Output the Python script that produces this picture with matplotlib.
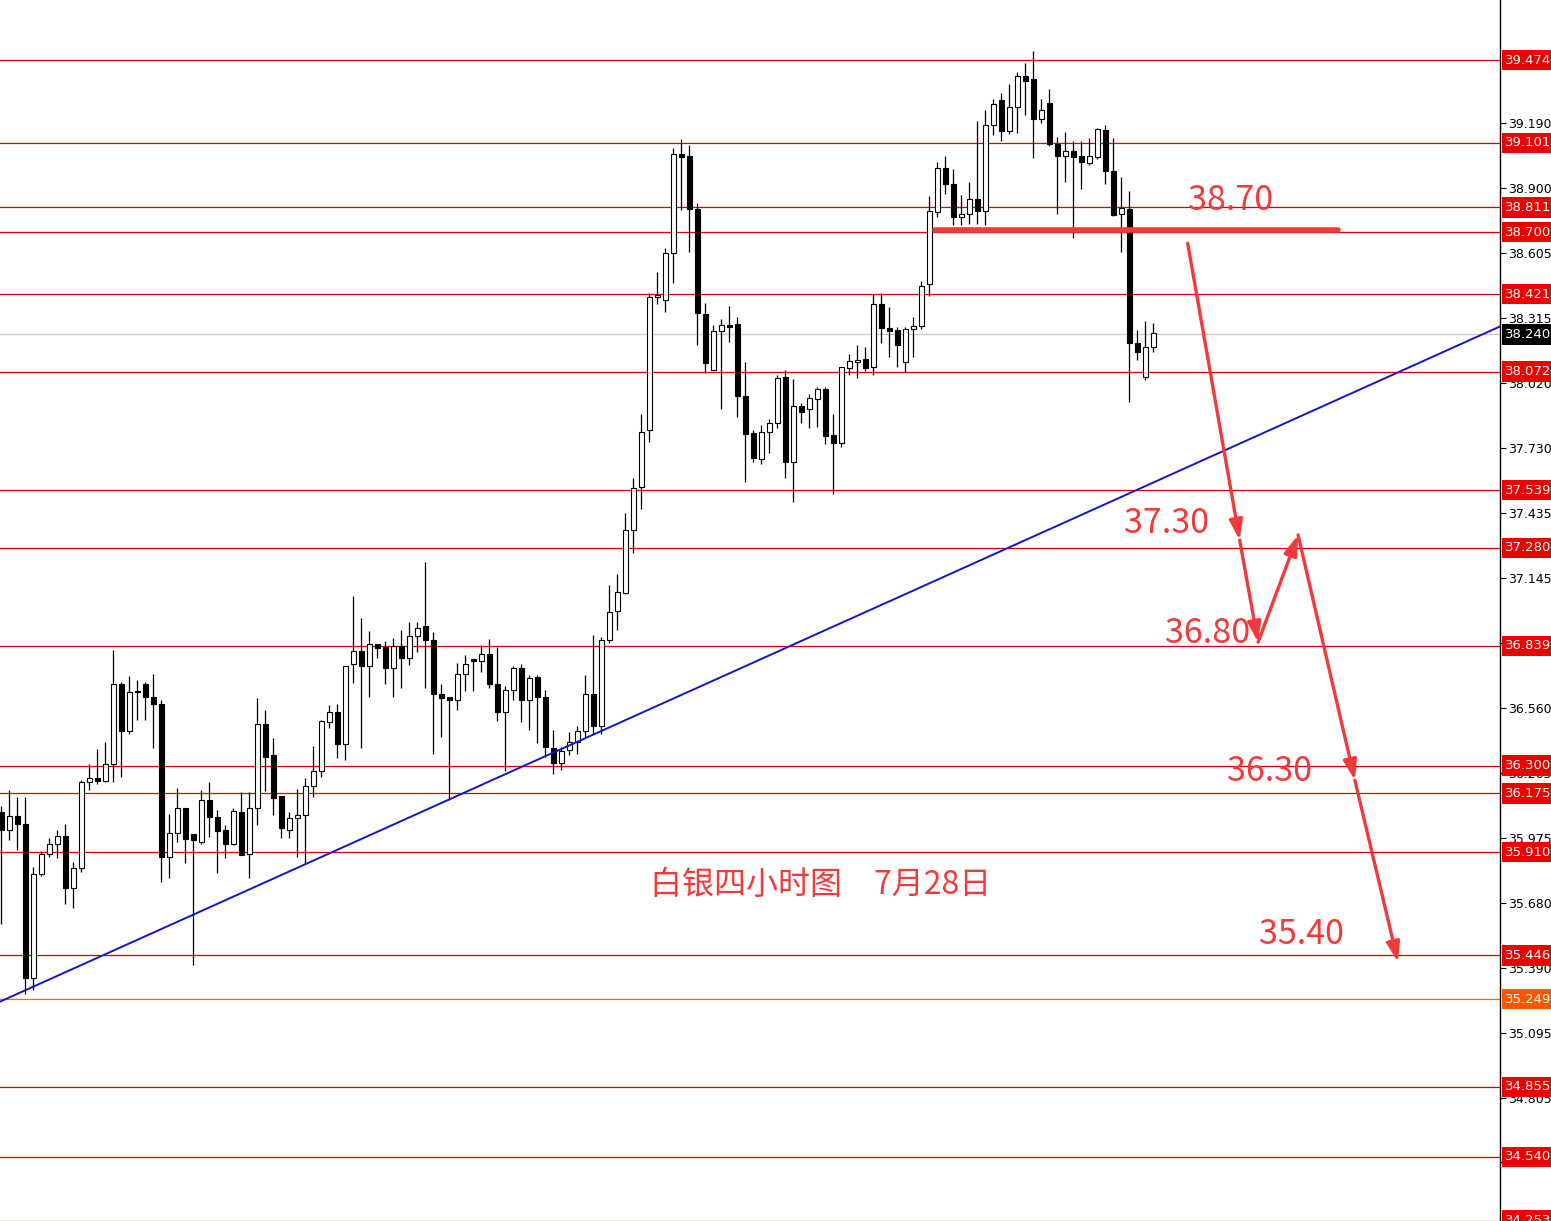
import numpy as np
import matplotlib
matplotlib.use("Agg")
import matplotlib.pyplot as plt
import matplotlib.transforms as mtransforms

# 4h candles (silver)
opens = [36.089, 36.012, 36.075, 36.039, 35.342, 35.814, 35.904, 35.945, 35.985, 35.751,
         35.837, 36.224, 36.246, 36.231, 36.309, 36.665, 36.456, 36.633, 36.665, 36.609,
         36.579, 35.889, 35.997, 36.107, 35.991, 35.956, 36.144, 36.069, 36.012, 35.946,
         36.089, 35.900, 36.111, 36.485, 36.346, 36.162, 36.012, 36.066, 36.076, 36.208,
         36.276, 36.498, 36.539, 36.395, 36.755, 36.815, 36.748, 36.849, 36.832, 36.739,
         36.837, 36.784, 36.883, 36.927, 36.867, 36.624, 36.609, 36.597, 36.710, 36.778,
         36.771, 36.804, 36.669, 36.539, 36.639, 36.737, 36.594, 36.699, 36.609, 36.381,
         36.312, 36.369, 36.406, 36.456, 36.624, 36.477, 36.864, 36.996, 37.077, 37.359,
         37.554, 37.809, 38.406, 38.393, 38.604, 39.050, 39.042, 38.803, 38.331, 38.079,
         38.253, 38.280, 38.285, 37.963, 37.794, 37.677, 37.801, 37.839, 38.046, 37.666,
         37.917, 37.905, 37.947, 37.992, 37.786, 37.752, 38.087, 38.114, 38.127, 38.091,
         38.375, 38.267, 38.259, 38.116, 38.262, 38.277, 38.465, 38.791, 38.987, 38.915,
         38.766, 38.781, 38.847, 38.796, 39.181, 39.294, 39.156, 39.261, 39.402, 39.387,
         39.207, 39.279, 39.095, 39.043, 39.064, 39.042, 39.012, 39.039, 39.159, 38.974,
         38.780, 38.802, 38.202, 38.049, 38.181]
highs = [36.117, 36.189, 36.159, 36.159, 35.844, 35.914, 35.976, 36.009, 36.039, 35.866,
         36.234, 36.306, 36.374, 36.404, 36.819, 36.676, 36.702, 36.684, 36.676, 36.711,
         36.597, 36.081, 36.197, 36.107, 35.991, 36.189, 36.226, 36.099, 36.032, 36.107,
         36.181, 36.181, 36.604, 36.552, 36.422, 36.162, 36.091, 36.193, 36.242, 36.387,
         36.507, 36.571, 36.575, 36.750, 37.062, 36.966, 36.904, 36.849, 36.859, 36.872,
         36.912, 36.944, 36.946, 37.216, 36.899, 36.665, 36.609, 36.762, 36.797, 36.778,
         36.842, 36.868, 36.834, 36.658, 36.747, 36.759, 36.706, 36.706, 36.642, 36.459,
         36.384, 36.451, 36.478, 36.706, 36.886, 36.879, 37.112, 37.161, 37.434, 37.592,
         37.881, 38.424, 38.519, 38.627, 39.077, 39.117, 39.092, 38.829, 38.379, 38.281,
         38.308, 38.367, 38.316, 38.116, 37.809, 37.831, 37.859, 38.057, 38.079, 38.037,
         37.932, 37.970, 38.004, 38.004, 37.880, 38.094, 38.150, 38.192, 38.181, 38.421,
         38.427, 38.364, 38.274, 38.274, 38.319, 38.480, 38.862, 39.014, 39.042, 38.984,
         38.867, 38.924, 39.201, 39.249, 39.297, 39.327, 39.366, 39.421, 39.459, 39.515,
         39.297, 39.342, 39.126, 39.149, 39.110, 39.110, 39.122, 39.167, 39.181, 39.124,
         38.949, 38.884, 38.259, 38.299, 38.292]
lows = [35.585, 35.964, 35.919, 35.274, 35.289, 35.802, 35.889, 35.884, 35.679, 35.659,
        35.819, 36.189, 36.219, 36.226, 36.226, 36.249, 36.444, 36.504, 36.504, 36.379,
        35.776, 35.792, 35.956, 35.862, 35.402, 35.949, 35.979, 35.817, 35.882, 35.941,
        35.896, 35.792, 36.032, 36.184, 36.077, 35.974, 35.974, 35.889, 35.859, 36.159,
        36.249, 36.469, 36.334, 36.327, 36.672, 36.377, 36.609, 36.784, 36.669, 36.609,
        36.649, 36.751, 36.811, 36.647, 36.354, 36.429, 36.144, 36.549, 36.635, 36.635,
        36.721, 36.647, 36.501, 36.276, 36.594, 36.496, 36.459, 36.402, 36.339, 36.260,
        36.282, 36.346, 36.354, 36.429, 36.444, 36.444, 36.852, 36.909, 37.071, 37.257,
        37.452, 37.756, 38.375, 38.341, 38.472, 38.799, 38.611, 38.192, 38.064, 38.079,
        37.902, 38.206, 37.866, 37.574, 37.666, 37.655, 37.707, 37.817, 37.594, 37.486,
        37.839, 37.819, 37.824, 37.745, 37.520, 37.734, 38.057, 38.042, 38.076, 38.057,
        38.199, 38.139, 38.094, 38.071, 38.139, 38.262, 38.412, 38.769, 38.871, 38.732,
        38.732, 38.736, 38.736, 38.732, 39.137, 39.111, 39.140, 39.144, 39.227, 39.032,
        39.192, 39.087, 38.781, 38.926, 38.674, 38.892, 39.002, 39.027, 38.916, 38.773,
        38.611, 37.936, 38.124, 38.034, 38.161]
closes = [36.012, 36.075, 36.039, 35.342, 35.814, 35.900, 35.945, 35.982, 35.751, 35.837,
          36.224, 36.246, 36.231, 36.309, 36.665, 36.456, 36.633, 36.636, 36.609, 36.576,
          35.889, 35.997, 36.107, 35.971, 35.964, 36.147, 36.069, 36.006, 35.949, 36.094,
          35.896, 36.111, 36.485, 36.339, 36.154, 36.017, 36.066, 36.076, 36.208, 36.276,
          36.499, 36.539, 36.395, 36.750, 36.815, 36.748, 36.849, 36.827, 36.739, 36.837,
          36.784, 36.882, 36.917, 36.867, 36.624, 36.604, 36.597, 36.710, 36.755, 36.771,
          36.800, 36.665, 36.539, 36.639, 36.737, 36.594, 36.696, 36.609, 36.384, 36.312,
          36.366, 36.406, 36.456, 36.624, 36.477, 36.864, 36.991, 37.079, 37.359, 37.549,
          37.801, 38.409, 38.417, 38.607, 39.050, 39.039, 38.802, 38.334, 38.112, 38.253,
          38.281, 38.274, 37.963, 37.790, 37.682, 37.801, 37.839, 38.042, 37.666, 37.917,
          37.891, 37.952, 37.992, 37.783, 37.752, 38.091, 38.121, 38.124, 38.089, 38.375,
          38.267, 38.254, 38.192, 38.262, 38.277, 38.458, 38.796, 38.987, 38.915, 38.766,
          38.781, 38.847, 38.796, 39.181, 39.275, 39.156, 39.261, 39.402, 39.381, 39.210,
          39.249, 39.095, 39.043, 39.066, 39.039, 39.014, 39.043, 39.162, 38.976, 38.777,
          38.807, 38.202, 38.161, 38.181, 38.244]

levels = [39.474, 39.101, 38.811, 38.700, 38.421, 38.072, 37.539, 37.280, 36.839,
          36.300, 36.175, 35.910, 35.446, 34.855, 34.540, 34.253]
orange_level = 35.249
bid = 38.240
price_ticks = [39.190, 38.900, 38.605, 38.315, 38.020, 37.730, 37.435, 37.145,
               36.850, 36.560, 36.265, 35.975, 35.680, 35.390, 35.095, 34.805, 34.515]

# trend line anchors (bar index, price)
trend_a = (3, 35.289)
trend_b = (68, 36.342)

# resistance bar at 38.70
res_price = 38.71
res_from, res_to = 116.7, 167.1

# forecast path (bar index, price)
path_x = [148.3, 154.8, 157.1, 162.1, 169.2, 174.6]
path_y = [38.650, 37.314, 36.855, 37.337, 36.234, 35.415]

note_texts = ["38.70", "37.30", "36.80", "36.30", "35.40"]
note_x = [153.7, 145.6, 150.8, 158.5, 162.5]
note_y = [38.844, 37.390, 36.892, 36.271, 35.541]
title_text = "白银四小时图　7月28日"

RED = "#d60000"
NOTE = "#f23a3a"

fig = plt.figure(figsize=(15.51, 12.21), dpi=100)
ax = fig.add_axes([0, 0, 1500 / 1551, 1])
ax.set_xlim(-0.16, 187.34)
ax.set_ylim(34.251, 39.744)

n = len(opens)
idx = np.arange(n)
o = np.array(opens); c = np.array(closes)
ax.vlines(idx, lows, highs, color="black", lw=0.9, zorder=3)
up = c >= o
ax.bar(idx[up], (c - o)[up], bottom=o[up], width=0.62, color="white",
       edgecolor="black", linewidth=0.8, zorder=4)
ax.bar(idx[~up], (o - c)[~up], bottom=c[~up], width=0.62, color="black",
       edgecolor="black", linewidth=0.8, zorder=4)

for lv in levels:
    ax.axhline(lv, color=RED, lw=0.9, zorder=2)
ax.axhline(orange_level, color="#ff6a00", lw=0.9, zorder=2)
ax.axhline(bid, color="#c8c8c8", lw=0.9, zorder=1)

ax.axline(trend_a, trend_b, color="#1414c8", lw=1.4, zorder=5)

ax.plot([res_from, res_to], [res_price, res_price], color=NOTE, lw=4,
        solid_capstyle="round", zorder=6)

for k in range(len(path_x) - 1):
    ax.annotate("", xy=(path_x[k + 1], path_y[k + 1]), xytext=(path_x[k], path_y[k]),
                arrowprops=dict(arrowstyle="-|>,head_length=1.2,head_width=0.4",
                                color=NOTE, lw=2.4, shrinkA=0, shrinkB=0), zorder=7)

cjk = ["Noto Sans CJK SC", "DejaVu Sans"]
for t, x, y in zip(note_texts, note_x, note_y):
    ax.text(x, y, t, color=NOTE, fontsize=24.5, ha="center", va="center",
            family=cjk, zorder=8)
ax.text(0.547, 0.275, title_text, transform=ax.transAxes, color=NOTE, fontsize=23,
        ha="center", va="center", family=cjk, zorder=8)

# right price scale
for s in ["top", "left", "bottom"]:
    ax.spines[s].set_visible(False)
ax.spines["right"].set_color("black")
ax.spines["right"].set_linewidth(1.0)
ax.set_xticks([])
ax.yaxis.tick_right()
ax.set_yticks(price_ticks)
ax.set_yticklabels([f"{v:.3f}" for v in price_ticks])
ax.tick_params(axis="y", direction="out", length=4, width=0.8, pad=2,
               labelsize=9, colors="black")

blend = mtransforms.blended_transform_factory(ax.transAxes, ax.transData)
for lv in levels:
    ax.text(1.0035, lv, f"{lv:.3f}", transform=blend, ha="left", va="center",
            color="white", fontsize=9.5, clip_on=False, zorder=20,
            bbox=dict(boxstyle="square,pad=0.28", fc="#ee0000", ec="none"))
ax.text(1.0035, orange_level, f"{orange_level:.3f}", transform=blend, ha="left",
        va="center", color="white", fontsize=9.5, clip_on=False, zorder=20,
        bbox=dict(boxstyle="square,pad=0.28", fc="#ff5500", ec="none"))
ax.text(1.0035, bid, f"{bid:.3f}", transform=blend, ha="left", va="center",
        color="white", fontsize=9.5, clip_on=False, zorder=20,
        bbox=dict(boxstyle="square,pad=0.28", fc="black", ec="none"))

fig.savefig("out.png", dpi=100)
